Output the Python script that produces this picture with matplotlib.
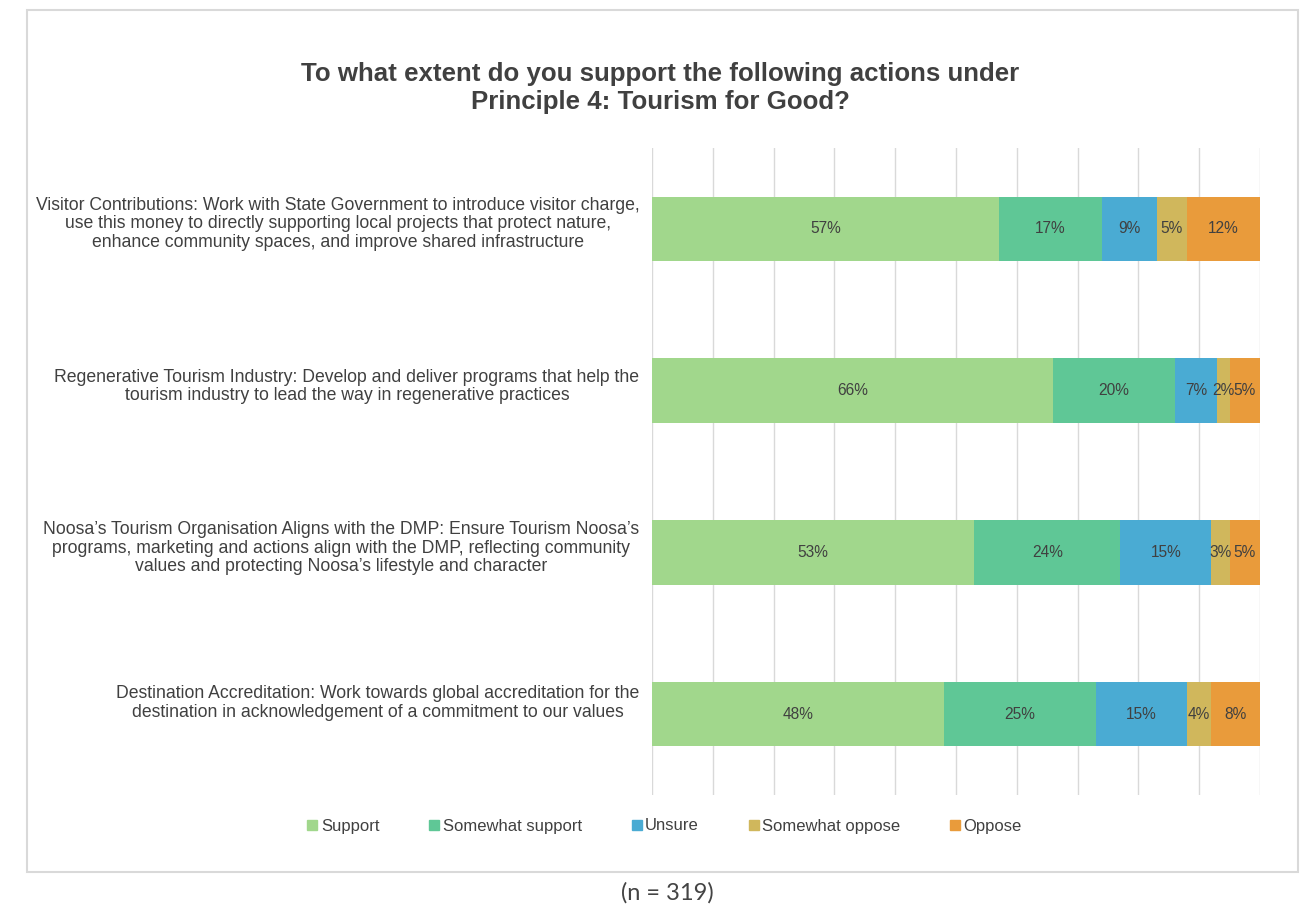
import numpy as np
import matplotlib.pyplot as plt
import matplotlib.transforms as mtransforms
from matplotlib.patches import Rectangle
from matplotlib.lines import Line2D

plt.rcParams['font.family'] = ['Liberation Sans', 'DejaVu Sans']

categories = [
    "Visitor Contributions: Work with State Government to introduce visitor charge,\n"
    "use this money to directly supporting local projects that protect nature,\n"
    "enhance community spaces, and improve shared infrastructure",
    "Regenerative Tourism Industry: Develop and deliver programs that help the\n"
    "tourism industry to lead the way in regenerative practices",
    "Noosa\u2019s Tourism Organisation Aligns with the DMP: Ensure Tourism Noosa\u2019s\n"
    "programs, marketing and actions align with the DMP, reflecting community\n"
    "values and protecting Noosa\u2019s lifestyle and character",
    "Destination Accreditation: Work towards global accreditation for the\n"
    "destination in acknowledgement of a commitment to our values",
]

responses = ["Support", "Somewhat support", "Unsure", "Somewhat oppose", "Oppose"]

# percentages per category, one list per response
support = [57, 66, 53, 48]
somewhat_support = [17, 20, 24, 25]
unsure = [9, 7, 15, 15]
somewhat_oppose = [5, 2, 3, 4]
oppose = [12, 5, 5, 8]

colors = ["#a1d78c", "#5fc796", "#4aabd3", "#d0b75c", "#e99b3b"]

series = [support, somewhat_support, unsure, somewhat_oppose, oppose]

W, H = 1307, 908
fig = plt.figure(figsize=(W / 100, H / 100), dpi=100)
fig.patch.set_facecolor("white")

# light frame round the chart
fig.patches.append(Rectangle((27 / W, 1 - 872 / H), (1298 - 27) / W, (872 - 10) / H,
                             transform=fig.transFigure, fill=False,
                             edgecolor="#d9d9d9", linewidth=1.5))

ax = fig.add_axes([652 / W, 1 - 795 / H, (1260 - 652) / W, (795 - 148) / H])

y = np.arange(len(categories))
left = np.zeros(len(categories))
for name, vals, col in zip(responses, series, colors):
    vals = np.array(vals)
    ax.barh(y, vals, left=left, height=0.4, color=col, label=name, zorder=3)
    for yi, l, v in zip(y, left, vals):
        ax.text(l + v / 2, yi, f"{v}%", ha="center", va="center",
                fontsize=11.2, color="#404040", zorder=4)
    left += vals

ax.set_xlim(0, 100)
ax.set_ylim(len(categories) - 0.5, -0.5)
ax.set_xticks(np.arange(0, 101, 10))
ax.set_xticklabels([])
ax.tick_params(axis="x", length=0)
ax.tick_params(axis="y", length=0, pad=9)
ax.grid(axis="x", color="#d9d9d9", linewidth=1, zorder=0)
for s in ax.spines.values():
    s.set_visible(False)

ax.set_yticks(y)
ax.set_yticklabels(categories, fontsize=12.7, color="#404040", multialignment="center",
                   linespacing=1.12)
# wrapped labels sit a little above the bar centres
for lbl, up in zip(ax.get_yticklabels(), [8, 7, 7, 14]):
    shift = mtransforms.ScaledTranslation(0, up / 100, fig.dpi_scale_trans)
    lbl.set_transform(lbl.get_transform() + shift)

fig.text(660 / W, 1 - 88 / H, "To what extent do you support the following actions under\n"
         "Principle 4: Tourism for Good?", ha="center", va="center", fontsize=18.6,
         fontweight="bold", color="#404040", linespacing=1.25)

handles = [Line2D([0], [0], marker="s", linestyle="none", markersize=6.5,
                  markerfacecolor=c, markeredgecolor=c) for c in colors]
fig.legend(handles, responses, loc="center", bbox_to_anchor=(663 / W, 1 - 826 / H),
           ncol=5, frameon=False, fontsize=12, handletextpad=0.0, handlelength=1.0,
           columnspacing=2.8, labelcolor="#404040")

fig.text(667 / W, 1 - 893 / H, "(n = 319)", ha="center", va="center",
         fontsize=17, color="#444444", family=["Lato", "DejaVu Sans"])

fig.savefig("out.png", dpi=100)
